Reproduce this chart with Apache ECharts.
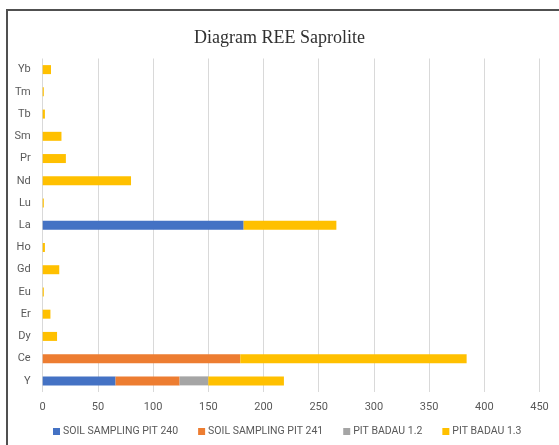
<!DOCTYPE html>
<html>
<head>
<meta charset="utf-8">
<script src="https://cdn.jsdelivr.net/npm/echarts@6/dist/echarts.min.js"></script>
<style>html,body{margin:0;padding:0;background:#fff;}#c{width:559px;height:445px;}</style>
</head>
<body>
<div id="c"></div>
<script>
var categories = ['Y','Ce','Dy','Er','Eu','Gd','Ho','La','Lu','Nd','Pr','Sm','Tb','Tm','Yb'];
var pit240 =  [66, 0, 0, 0, 0, 0, 0, 182, 0, 0, 0, 0, 0, 0, 0];
var pit241 =  [58, 179, 0, 0, 0, 0, 0, 0, 0, 0, 0, 0, 0, 0, 0];
var badau12 = [26, 0, 0, 0, 0, 0, 0, 0, 0, 0, 0, 0, 0, 0, 0];
var badau13 = [68.5, 205, 13, 7, 1, 15, 2, 84, 1, 80, 21, 17, 2, 1, 7.5];
var seriesNames = ['SOIL SAMPLING PIT 240','SOIL SAMPLING PIT 241','PIT BADAU 1.2','PIT BADAU 1.3'];
var xTicks = {min: 0, max: 450, interval: 50};

var colors = ['#4472C4','#ED7D31','#A5A5A5','#FFC000'];
var datas = [pit240, pit241, badau12, badau13];
var chart = echarts.init(document.getElementById('c'), null, {renderer:'canvas'});
var series = seriesNames.map(function(n,i){
  return {name:n, type:'bar', stack:'total', data:datas[i], barWidth:9,
    itemStyle:{color:colors[i]}, emphasis:{disabled:true}};
});
chart.setOption({
  animation:false,
  backgroundColor:'#fff',
  graphic:[{type:'rect', shape:{x:7, y:10, width:700, height:700},
    style:{fill:'none', stroke:'#505050', lineWidth:2}, silent:true, z:-1}],
  title:{text:'Diagram REE Saprolite', left:'center', top:24,
    textStyle:{fontFamily:'Liberation Serif', fontSize:18, fontWeight:'normal', color:'#303030'}},
  grid:{left:42.7, right:19.5, top:58.5, bottom:53, containLabel:false},
  legend:{top:426, left:53, padding:0, itemWidth:7, itemHeight:7, icon:'rect', itemGap:20,
    textStyle:{fontFamily:'Roboto', fontSize:10.5, color:'#595959', padding:[0,0,0,-2]},
    data:seriesNames},
  xAxis:{type:'value', min:xTicks.min, max:xTicks.max, interval:xTicks.interval,
    axisLine:{show:false}, axisTick:{show:false},
    splitLine:{lineStyle:{color:'#d9d9d9', width:1}},
    axisLabel:{fontFamily:'Roboto', fontSize:11, color:'#595959', margin:10}},
  yAxis:{type:'category', data:categories,
    axisLine:{show:false}, axisTick:{show:false},
    axisLabel:{fontFamily:'Roboto', fontSize:11, color:'#595959', margin:12}},
  series:series
});
</script>
</body>
</html>
